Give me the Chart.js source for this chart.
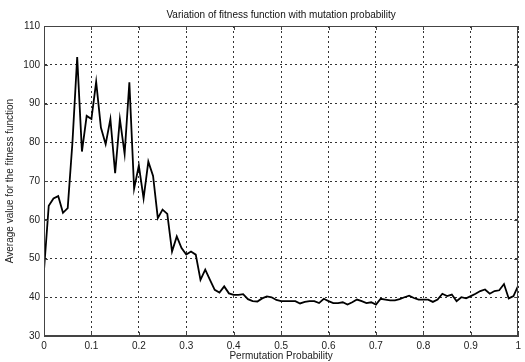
<!DOCTYPE html>
<html>
<head>
<meta charset="utf-8">
<script src="https://cdn.jsdelivr.net/npm/chart.js@4/dist/chart.umd.min.js"></script>
<style>
html,body{margin:0;padding:0;background:#fff;}
#wrap{width:525px;height:362px;position:relative;}
</style>
</head>
<body>
<div id="wrap"><canvas id="c" width="525" height="362"></canvas></div>
<script>
const chartTitle = 'Variation of fitness function with mutation probability';
const xAxisTitle = 'Permutation Probability';
const yAxisTitle = 'Average value for the fitness function';

const probability = [
  0.00,0.01,0.02,0.03,0.04,0.05,0.06,0.07,0.08,0.09,
  0.10,0.11,0.12,0.13,0.14,0.15,0.16,0.17,0.18,0.19,
  0.20,0.21,0.22,0.23,0.24,0.25,0.26,0.27,0.28,0.29,
  0.30,0.31,0.32,0.33,0.34,0.35,0.36,0.37,0.38,0.39,
  0.40,0.41,0.42,0.43,0.44,0.45,0.46,0.47,0.48,0.49,
  0.50,0.51,0.52,0.53,0.54,0.55,0.56,0.57,0.58,0.59,
  0.60,0.61,0.62,0.63,0.64,0.65,0.66,0.67,0.68,0.69,
  0.70,0.71,0.72,0.73,0.74,0.75,0.76,0.77,0.78,0.79,
  0.80,0.81,0.82,0.83,0.84,0.85,0.86,0.87,0.88,0.89,
  0.90,0.91,0.92,0.93,0.94,0.95,0.96,0.97,0.98,0.99,1.00
];
const fitness = [
  47.0,63.6,65.5,66.1,61.8,63.0,80.0,102.0,77.6,86.8,
  86.0,95.6,83.8,79.5,86.0,72.0,86.0,77.0,95.5,68.0,
  74.0,65.5,75.0,71.3,60.4,62.6,61.5,51.8,55.7,52.7,
  51.0,51.8,51.0,44.5,47.1,44.5,41.9,41.2,42.8,41.0,
  40.6,40.6,40.8,39.5,39.0,38.9,39.7,40.2,40.0,39.3,
  39.0,39.0,39.0,39.0,38.4,38.8,39.0,39.0,38.5,39.6,
  39.0,38.5,38.5,38.7,38.1,38.7,39.4,39.0,38.5,38.7,
  38.1,39.6,39.4,39.2,39.2,39.5,40.0,40.4,39.8,39.4,
  39.4,39.4,38.8,39.4,40.9,40.3,40.7,39.0,40.0,39.7,
  40.3,40.9,41.6,42.0,40.9,41.6,41.8,43.4,39.7,40.3,43.0
];
const xTickValues = [0,0.1,0.2,0.3,0.4,0.5,0.6,0.7,0.8,0.9,1];
const xTickLabels = ['0','0.1','0.2','0.3','0.4','0.5','0.6','0.7','0.8','0.9','1'];
const yTickValues = [30,40,50,60,70,80,90,100,110];
const yTickLabels = ['30','40','50','60','70','80','90','100','110'];

const points = probability.map((p, i) => ({x: p, y: fitness[i]}));
const FONT = '"Liberation Sans", Arial, sans-serif';

const framePlugin = {
  id: 'frame',
  afterDraw(chart) {
    const {ctx, chartArea: a, scales} = chart;
    ctx.save();
    ctx.strokeStyle = '#444';
    ctx.lineWidth = 1;
    ctx.strokeRect(Math.round(a.left) + 0.5, Math.round(a.top) + 0.5,
                   Math.round(a.right - a.left) - 1, Math.round(a.bottom - a.top) - 1);
    ctx.beginPath();
    const tl = 4;
    xTickValues.forEach(v => {
      const px = Math.round(scales.x.getPixelForValue(v)) + 0.5;
      ctx.moveTo(px, a.bottom); ctx.lineTo(px, a.bottom - tl);
      ctx.moveTo(px, a.top); ctx.lineTo(px, a.top + tl);
    });
    yTickValues.forEach(v => {
      const py = Math.round(scales.y.getPixelForValue(v)) + 0.5;
      ctx.moveTo(a.left, py); ctx.lineTo(a.left + tl, py);
      ctx.moveTo(a.right, py); ctx.lineTo(a.right - tl, py);
    });
    ctx.stroke();
    ctx.fillStyle = '#111';
    ctx.font = '10px ' + FONT;
    ctx.textAlign = 'center';
    ctx.textBaseline = 'middle';
    ctx.fillText(chartTitle, (a.left + a.right) / 2, 15);
    ctx.restore();
  }
};

new Chart(document.getElementById('c'), {
  type: 'line',
  data: {
    datasets: [{
      data: points,
      borderColor: '#000',
      borderWidth: 1.8,
      pointRadius: 0,
      tension: 0,
      fill: false
    }]
  },
  options: {
    responsive: false,
    animation: false,
    devicePixelRatio: 1,
    layout: {padding: {top: 26, right: 2, left: 0, bottom: 0}},
    plugins: {legend: {display: false}, title: {display: false}, tooltip: {enabled: false}},
    scales: {
      x: {
        type: 'linear', min: 0, max: 1,
        afterBuildTicks: s => { s.ticks = xTickValues.map(v => ({value: v})); },
        afterFit: s => { s.height = 26; },
        ticks: {
          autoSkip: false, maxRotation: 0, padding: 4,
          color: '#222', font: {family: FONT, size: 10},
          callback: (v) => xTickLabels[xTickValues.indexOf(v)] ?? ''
        },
        grid: {color: '#333', lineWidth: 1, drawTicks: false},
        border: {display: true, color: '#444', dash: [2, 3]},
        title: {display: true, text: xAxisTitle, color: '#222', font: {family: FONT, size: 10}, padding: {top: 0, bottom: 0}}
      },
      y: {
        type: 'linear', min: 30, max: 110,
        afterBuildTicks: s => { s.ticks = yTickValues.map(v => ({value: v})); },
        afterFit: s => { s.width = 44; },
        ticks: {
          padding: 4, color: '#222', font: {family: FONT, size: 10},
          callback: (v) => yTickLabels[yTickValues.indexOf(v)] ?? ''
        },
        grid: {color: '#333', lineWidth: 1, drawTicks: false},
        border: {display: true, color: '#444', dash: [2, 3]},
        title: {display: true, text: yAxisTitle, color: '#222', font: {family: FONT, size: 10}, padding: {top: 4, bottom: 0}}
      }
    }
  },
  plugins: [framePlugin]
});
</script>
</body>
</html>
